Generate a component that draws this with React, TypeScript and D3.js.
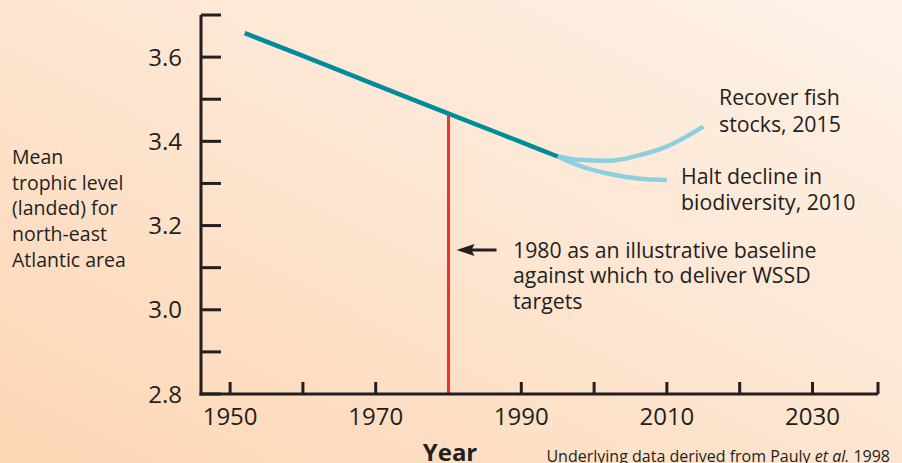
import React from "react";
import * as d3 from "d3";

const W = 902;
const H = 463;

// trend of mean trophic level
const trendYears = [1952, 1960, 1970, 1980, 1990, 1995];
const trendValues = [3.657, 3.603, 3.534, 3.466, 3.398, 3.364];

// the two target scenarios branching from 1995
const recoverYears = [1995, 1998, 2002, 2006, 2010, 2015];
const recoverValues = [3.364, 3.356, 3.354, 3.366, 3.388, 3.435];
const haltYears = [1995, 1998, 2002, 2006, 2010];
const haltValues = [3.364, 3.342, 3.323, 3.312, 3.308];

const baselineYear = 1980;

const yTicks = [2.8, 2.9, 3.0, 3.1, 3.2, 3.3, 3.4, 3.5, 3.6, 3.7];
const yLabels = [2.8, 3.0, 3.2, 3.4, 3.6];
const xTicks = [1950, 1960, 1970, 1980, 1990, 2000, 2010, 2020, 2030, 2039];
const xLabels = [1950, 1970, 1990, 2010, 2030];

const yTitle = ["Mean", "trophic level", "(landed) for", "north-east", "Atlantic area"];
const baselineNote = [
  "1980 as an illustrative baseline",
  "against which to deliver WSSD",
  "targets",
];

const ink = "#231f20";
const font = "'Open Sans', sans-serif";

export default function App() {
  const x = d3.scaleLinear().domain([1946, 2039]).range([201, 878]);
  const y = d3.scaleLinear().domain([2.8, 3.7]).range([394, 15]);

  const line = d3
    .line<[number, number]>()
    .x((d) => x(d[0]))
    .y((d) => y(d[1]))
    .curve(d3.curveMonotoneX);

  const trend = trendYears.map((yr, i) => [yr, trendValues[i]] as [number, number]);
  const recover = recoverYears.map((yr, i) => [yr, recoverValues[i]] as [number, number]);
  const halt = haltYears.map((yr, i) => [yr, haltValues[i]] as [number, number]);

  const baseVal = d3.interpolateNumber(trendValues[2], trendValues[3])(
    (baselineYear - trendYears[2]) / (trendYears[3] - trendYears[2])
  );
  const bx = x(baselineYear);
  const [x0, x1] = x.range();
  const [yb, yt] = y.range();
  const arrowY = 250;

  return (
    <svg
      width={W}
      height={H}
      style={{ position: "absolute", left: 0, top: 0 }}
      fontFamily={font}
    >
      <defs>
        <linearGradient id="bg" x1="0" y1="1" x2="1" y2="0">
          <stop offset="0" stopColor="#fdd6b4" />
          <stop offset="0.5" stopColor="#fde5d0" />
          <stop offset="1" stopColor="#fef2e8" />
        </linearGradient>
      </defs>
      <rect width={W} height={H} fill="url(#bg)" />

      {/* y axis */}
      <g stroke={ink} strokeWidth={3}>
        <line x1={x0} x2={x0} y1={yt} y2={yb + 1.5} />
        {yTicks.map((t) => (
          <line key={t} x1={x0} x2={x0 + 20} y1={y(t)} y2={y(t)} />
        ))}
      </g>
      <g fill={ink} fontSize={24} textAnchor="end">
        {yLabels.map((t) => (
          <text key={t} x={182} y={y(t)} dy="0.36em">
            {t.toFixed(1)}
          </text>
        ))}
      </g>

      {/* x axis */}
      <g stroke={ink} strokeWidth={3}>
        <line x1={x0 - 1.5} x2={x1} y1={yb} y2={yb} />
        {xTicks.map((t) => (
          <line key={t} x1={x(t)} x2={x(t)} y1={yb} y2={yb - 12} />
        ))}
      </g>
      <g fill={ink} fontSize={24} textAnchor="middle">
        {xLabels.map((t) => (
          <text key={t} x={x(t)} y={425}>
            {t}
          </text>
        ))}
      </g>
      <text x={450} y={461} fontSize={24} fontWeight="bold" fill={ink} textAnchor="middle">
        Year
      </text>
      <text x={890} y={462} fontSize={16} fill={ink} textAnchor="end">
        Underlying data derived from Pauly <tspan fontStyle="italic">et al.</tspan> 1998
      </text>

      {/* y title */}
      <g fill={ink} fontSize={19.5}>
        {yTitle.map((s, i) => (
          <text key={s} x={12} y={157 + i * 25.7} dy="0.36em">
            {s}
          </text>
        ))}
      </g>

      {/* baseline */}
      <line x1={bx} x2={bx} y1={yb - 1.5} y2={y(baseVal)} stroke="#ec3326" strokeWidth={3} />

      {/* series */}
      <path d={line(recover) || ""} fill="none" stroke="#8ccfde" strokeWidth={4.5} />
      <path d={line(halt) || ""} fill="none" stroke="#8ccfde" strokeWidth={4.5} />
      <path d={line(trend) || ""} fill="none" stroke="#008c9c" strokeWidth={4.5} />

      {/* annotations */}
      <g fill={ink} fontSize={21.3}>
        <text x={719} y={97} dy="0.36em">Recover fish</text>
        <text x={719} y={124} dy="0.36em">stocks, 2015</text>
        <text x={681} y={176} dy="0.36em">Halt decline in</text>
        <text x={681} y={202} dy="0.36em">biodiversity, 2010</text>
        {baselineNote.map((s, i) => (
          <text key={s} x={513} y={arrowY + i * 25.5} dy="0.36em">
            {s}
          </text>
        ))}
      </g>
      <line x1={bx + 22} x2={bx + 48} y1={arrowY} y2={arrowY} stroke={ink} strokeWidth={3} />
      <path
        d={`M${bx + 8},${arrowY} L${bx + 26},${arrowY - 6} L${bx + 23},${arrowY} L${bx + 26},${arrowY + 6} Z`}
        fill={ink}
      />
    </svg>
  );
}
